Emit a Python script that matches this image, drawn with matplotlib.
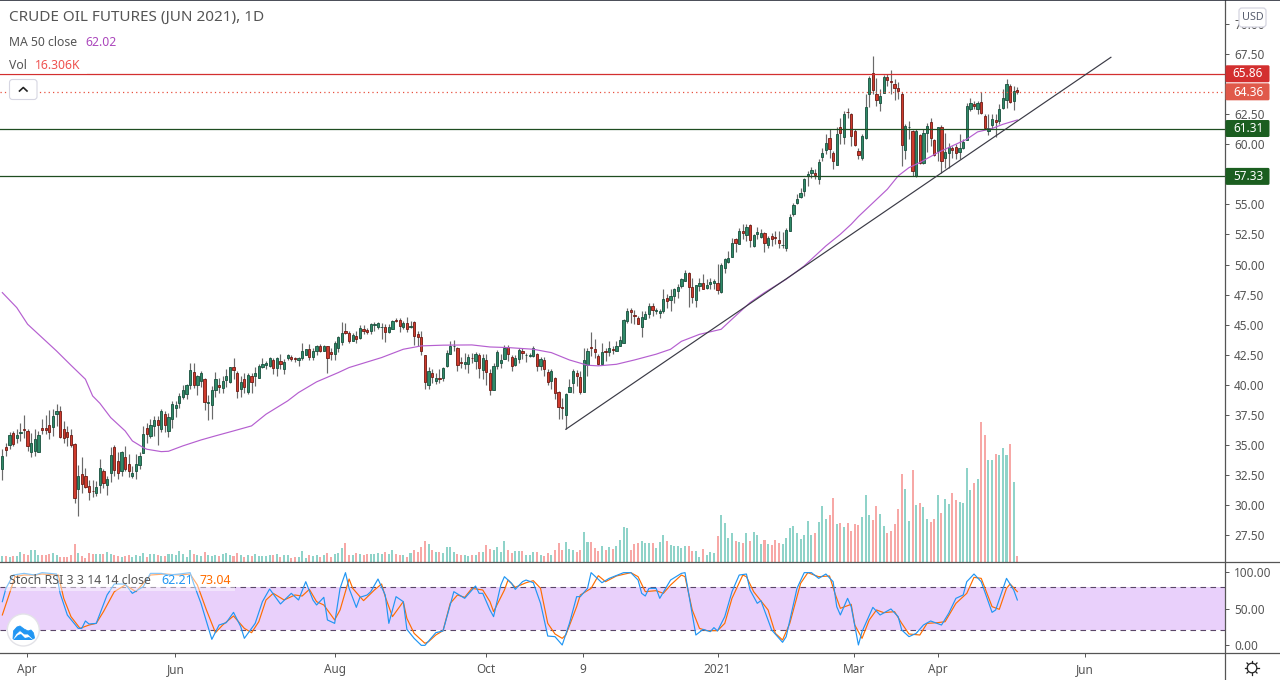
import matplotlib
matplotlib.use("Agg")
import matplotlib.pyplot as plt
from matplotlib.patches import FancyBboxPatch, Circle, Polygon, Rectangle

plt.rcParams['font.family'] = ['Noto Sans', 'DejaVu Sans']

opens = [33.0,34.8,35.0,36.0,35.6,36.0,36.3,36.2,34.45,34.5,34.45,36.4,36.4,36.7,36.5,37.6,37.8,36.3,36.1,35.85,
35.05,31.35,32.55,32.4,31.6,31.2,31.0,31.7,32.8,31.7,32.7,34.8,33.65,32.85,34.0,33.4,32.45,32.85,33.35,34.3,
36.45,35.75,36.55,37.05,36.35,37.6,36.2,37.2,38.05,38.5,39.0,39.2,40.0,41.1,40.0,40.3,40.5,38.5,38.3,39.6,
40.0,39.75,40.4,40.2,41.45,41.0,39.65,40.45,39.4,40.7,40.7,40.6,41.45,41.65,41.55,42.1,41.4,42.0,41.3,42.2,
42.35,42.2,42.1,42.2,42.5,42.95,42.3,42.85,43.25,42.8,43.25,42.7,42.6,43.05,
43.57,44.51,44.35,43.68,44.1,43.9,44.68,44.6,44.49,44.98,44.85,44.82,44.85,44.4,44.65,45.43,45.43,44.82,45.18,44.82,
45.26,44.26,44.01,42.52,40.02,41.02,40.33,40.55,40.58,41.58,42.6,43.24,43.1,41.94,41.74,41.74,42.27,41.99,42.52,41.24,
42.1,41.02,39.61,41.58,41.85,42.19,43.18,42.35,41.66,42.19,42.85,42.46,42.41,42.43,42.6,41.58,42.1,41.1,40.33,40.6,
39.44,38.14,37.53,39.44,40.19,41.02,40.69,39.44,41.69,43.18,43.02,42.43,41.74,42.85,42.74,42.96,42.85,43.27,43.51,45.34,
46.26,45.79,45.59,44.85,45.48,45.93,46.59,46.18,45.98,46.18,47.26,
47.06,47.4,47.81,48.23,48.64,49.34,48.17,47.06,48.23,48.45,48.06,48.37,48.5,48.45,47.73,49.75,50.22,50.66,52.16,51.72,
52.83,52.47,53.33,51.55,52.55,52.33,52.66,51.63,52.38,52.33,52.08,51.63,51.39,52.83,54.21,55.15,55.63,56.12,57.34,57.62,
57.65,57.12,58.95,59.53,60.56,59.31,58.29,
61.47,60.61,62.72,62.55,61.14,59.48,58.87,60.56,64.21,65.96,64.21,63.44,64.3,65.63,65.3,65.05,64.71,64.21,59.53,61.44,
61.14,57.34,60.81,58.48,60.97,61.89,60.39,59.45,61.47,58.87,59.28,59.7,59.81,59.37,59.73,60.39,62.97,63.36,62.97,63.55,
62.39,61.14,61.64,62.05,61.97,63.05,63.72,64.88,63.63,64.55]

closes = [34.07,34.6,35.87,35.1,35.87,36.1,36.25,34.9,35.2,35.5,35.8,36.25,36.25,36.1,37.45,37.8,35.7,35.55,35.7,35.0,
30.6,32.4,31.75,31.5,31.1,31.15,31.5,33.05,31.85,32.2,34.15,32.95,32.7,34.4,33.0,32.85,32.7,33.45,34.05,35.95,
35.9,36.7,37.05,36.7,37.8,36.7,37.3,38.45,38.35,39.05,39.6,39.95,41.2,40.0,40.7,41.0,38.6,38.6,39.6,40.5,
39.8,40.35,40.75,41.5,41.25,39.5,40.2,39.85,40.85,40.25,40.95,41.6,41.7,41.8,42.2,41.4,42.2,41.75,41.9,42.5,
42.15,42.15,42.25,42.85,42.95,42.3,42.85,43.25,42.8,43.2,42.25,42.6,43.5,43.95,
44.35,44.32,43.65,44.18,43.82,44.76,44.49,44.43,45.09,45.09,45.12,44.85,44.43,44.85,45.34,45.34,44.9,45.18,44.65,44.93,
44.1,43.99,42.85,40.27,41.19,40.63,40.55,40.5,41.38,42.68,43.27,43.27,41.69,41.85,41.91,42.35,42.24,42.6,41.44,42.27,
41.08,39.61,41.6,42.77,42.1,43.1,42.6,41.58,42.27,42.93,42.68,42.52,42.52,43.1,41.58,42.19,41.35,40.27,41.19,39.36,
38.2,38.08,39.28,39.86,41.19,40.77,39.44,42.1,42.85,43.07,42.74,41.74,42.77,42.74,43.1,42.93,43.27,43.76,45.43,46.18,
46.09,45.76,45.07,45.68,45.93,46.59,46.26,46.23,46.12,47.17,47.01,
47.42,47.95,48.17,48.78,49.34,48.17,47.31,48.34,48.45,48.0,48.34,48.59,48.67,47.89,49.95,50.44,50.58,51.83,51.8,52.77,
52.66,53.16,52.05,52.49,52.74,52.66,51.8,52.24,52.13,52.24,51.83,51.66,52.91,53.99,54.93,55.43,55.99,57.15,57.56,57.9,
57.45,58.56,59.31,60.14,59.64,58.62,60.89,
60.97,62.55,62.69,60.7,59.95,59.12,60.72,63.13,65.49,64.52,63.69,64.05,65.63,65.35,65.18,64.71,64.41,59.95,61.55,61.47,
57.79,61.14,58.48,60.97,61.55,60.56,59.14,61.47,58.65,59.39,59.81,59.56,59.31,59.73,60.22,63.22,63.47,63.22,63.47,62.64,
61.39,61.39,62.14,61.89,62.97,63.88,65.05,63.55,64.46,64.36]

highs = [34.65,35.2,36.1,36.2,36.3,36.8,37.5,36.3,36.0,36.3,36.2,37.15,37.5,37.9,38.0,38.45,38.25,37.0,36.6,36.3,
35.2,33.3,34.0,33.1,32.1,32.05,32.0,33.8,33.0,32.4,34.8,35.0,34.4,34.5,34.95,34.25,33.25,34.25,34.4,36.6,
36.85,37.15,37.4,37.4,38.0,37.85,37.7,38.7,38.7,39.35,40.0,40.05,41.85,41.85,40.85,41.15,40.6,39.15,39.9,41.1,
40.6,40.7,41.3,41.5,42.25,41.15,40.75,41.0,41.0,41.0,41.5,41.7,42.25,42.0,42.3,42.2,42.3,42.55,42.15,42.55,
42.45,42.35,42.35,43.45,43.0,43.4,43.1,43.3,43.4,43.3,43.25,43.1,43.65,44.1,
45.23,45.18,44.49,44.35,44.49,44.96,44.96,44.76,45.18,45.23,45.23,45.18,45.04,45.04,45.4,45.59,45.59,45.32,45.65,45.32,
45.32,44.49,44.49,42.52,41.52,41.35,41.02,41.35,41.52,42.9,43.65,43.71,43.18,42.35,42.68,42.55,42.63,42.74,42.63,42.55,
42.55,41.3,41.8,42.88,42.55,43.3,43.3,42.46,42.46,43.1,43.1,42.68,42.63,43.24,42.68,42.32,42.32,41.35,41.35,40.69,
39.5,38.94,39.36,40.47,41.35,41.24,41.16,43.1,43.1,44.4,43.79,42.55,43.52,43.1,43.65,43.24,43.65,44.07,45.51,46.42,
46.42,46.23,45.73,46.15,46.15,46.84,46.78,46.42,46.34,48.0,47.53,
47.95,48.09,48.37,48.92,49.56,49.39,48.92,48.34,48.92,49.2,48.78,48.92,48.78,50.03,50.17,50.58,51.14,52.24,52.24,53.08,
53.41,53.35,53.35,52.52,53.16,52.94,52.72,52.38,52.6,52.8,52.8,52.72,53.08,54.2,55.1,55.85,56.4,57.23,57.79,58.15,
57.92,58.76,59.73,60.83,61.25,59.45,61.4,
62.22,62.77,63.05,62.64,61.25,59.73,60.83,64.16,65.68,67.35,65.54,64.58,65.74,65.82,66.15,65.46,65.21,64.35,61.67,61.94,
61.17,61.25,60.83,61.25,61.75,62.22,60.42,61.47,61.58,60.92,60.14,59.86,60.0,60.83,60.42,63.47,63.88,63.61,63.61,64.38,
62.5,62.5,62.5,62.5,63.33,64.58,65.46,65.0,64.85,64.77]

lows = [32.1,34.1,34.65,34.9,35.2,35.3,35.6,34.5,34.0,34.1,34.4,35.9,35.9,35.5,35.75,36.6,35.6,35.15,34.9,34.8,
30.2,29.1,31.05,31.45,30.45,30.65,30.8,31.05,31.4,30.85,31.9,32.45,32.15,32.45,32.85,32.3,32.25,32.15,33.0,34.3,
35.2,35.6,35.75,35.0,36.1,36.05,35.7,36.45,37.3,38.1,38.8,38.8,39.65,39.75,39.15,39.85,37.9,37.1,37.2,38.95,
39.35,39.35,39.8,40.15,40.45,38.9,38.95,39.35,39.2,39.35,39.9,40.55,41.4,41.3,41.5,40.9,40.75,41.3,40.9,42.1,
42.0,41.9,41.6,42.1,42.45,42.1,42.1,42.45,42.7,42.8,41.0,42.1,42.1,42.7,
43.3,44.21,43.52,43.65,43.52,43.85,44.21,44.21,44.21,44.49,44.62,43.79,43.57,44.35,44.62,45.23,44.4,44.62,44.4,44.76,
43.3,43.24,42.46,39.64,39.64,40.13,40.05,40.13,40.33,41.52,42.55,42.82,41.16,41.44,41.3,41.02,41.85,41.3,40.6,40.47,
40.0,39.17,39.58,41.35,41.44,42.13,41.99,41.16,41.58,41.8,42.13,41.91,42.35,42.35,41.16,41.24,40.75,40.0,39.64,38.8,
37.2,37.2,36.31,39.41,39.36,39.91,39.22,39.41,40.75,42.41,42.27,41.63,41.71,41.99,42.41,42.55,42.82,43.24,43.46,45.18,
45.18,45.04,45.04,44.01,45.46,45.59,45.73,45.87,45.59,46.01,46.42,
46.15,46.84,47.26,48.09,48.64,46.48,46.84,46.48,47.81,47.95,47.95,47.95,47.95,47.53,47.67,49.34,50.17,50.64,51.05,51.69,
52.11,51.97,51.5,51.5,52.11,52.24,51.05,51.41,51.55,51.69,51.41,51.41,51.14,52.8,54.05,55.02,55.57,55.71,56.54,57.23,
57.09,56.68,58.62,59.17,58.9,57.92,58.26,
60.0,60.0,62.22,59.86,59.86,58.76,58.7,60.47,63.13,64.16,63.19,62.77,64.3,64.85,64.16,63.69,63.74,58.2,58.76,60.42,
57.37,57.32,58.34,58.34,59.37,59.86,59.03,58.62,57.65,58.06,58.06,58.89,58.76,58.76,59.59,60.36,62.77,62.91,62.5,62.5,
61.25,60.75,61.25,60.64,61.67,62.91,63.05,63.47,62.86,64.16]

volume_k = [16.4,16.4,13.8,16.4,16.4,26.8,21.6,19,31.9,31.9,19,19,19,21.6,24.2,19,13.8,13.8,13.8,19,47.5,24.2,16.4,11.2,24.2,
21.6,21.6,21.6,21.6,26.8,21.6,19,16.4,13.8,16.4,19,13.8,19,16.4,24.2,13.8,21.6,21.6,19,16.4,16.4,21.6,21.6,19,29.3,21.6,13.8,31.9,21.6,19,16.4,26.8,19,16.4,19,16.4,21.6,24.2,19,16.4,24.2,19,13.8,19,16.4,21.6,16.4,16.4,16.4,19,19,21.6,13.8,19,19,11.2,13.8,13.8,29.3,11.2,19,16.4,19,13.8,19,24.2,13.8,21.6,24.2,37,50,19,19,24.2,21.6,19,21.6,21.6,21.6,24.2,21.6,26.8,21.6,31.9,21.6,19,19,13.8,24.2,31.9,26.8,39.7,55,47.5,31.9,26.8,26.8,24.2,39.7,39.7,26.8,21.6,19,19,16.4,19,19,26.8,26.8,45,34.5,31.9,39.7,26.8,55,31.9,
24.2,29.3,29.3,29.3,19,19,26.8,26.8,19,16.4,24.2,19,31.9,50,31.9,52.6,34.5,31.9,26.8,31.9,78.5,52.6,52.6,37.1,29.3,42.3,31.9,39.7,34.5,42.3,57.8,91.5,88.9,31.9,47.5,50,55.2,50,50,50,37.1,52.6,70.8,55.2,44.9,42.3,42.3,37.1,42.3,42.3,29.3,29.3,13.8,34.5,19,26.8,24.2,68.2,122.5,101.8,63,75.9,55.2,52.6,50,75.9,55.2,78.5,70.8,47.5,57.8,47.5,44.9,57.8,50,47.5,63,88.9,94,75.9,60.4,70.8,107,70.8,75.9,104.4,145.8,112.2,122.5,166.6,99.2,101.8,91.5,101.8,81.1,99.2,96.7,117.4,174.3,122.5,109.6,145.8,125.1,94,75.9,81.1,99.2,138,228.7,189.9,107,239,148.4,153.6,143.3,112.2,104.4,112.2,174.3,127.7,164,151,179.5,161.4,156.2,153.6,244.2,187.3,205.4,215.8,363.3,329.7,264.9,264.9,280.5,277.9,296,277.9,306.4,208,16.3]

ma_pos = [1,5,8,12,16,20,24,26,28,31,35,37,40,41,45,47,51,56,60,65,70,74,80,83,88,94,97,106,112,117,123,131,136,141,148,153,158,163,166,171,176,182,186,189,194,200,203,208,212,218,223,226,229,233,236,238,246,249,252,255,260,263,268,271,275,278,282]
ma_vals = [47.67,46.42,45.04,43.93,42.82,41.63,40.47,39.08,38.47,37.28,36.17,35.34,34.79,34.65,34.45,34.48,34.93,35.42,35.76,36.17,36.59,37.56,38.67,39.36,40.25,41.02,41.44,42.27,42.96,43.24,43.3,43.32,43.15,43.1,42.96,42.68,42.07,41.63,41.58,41.71,42.07,42.55,42.96,43.62,44.2,44.62,45.46,46.84,47.67,48.78,49.89,50.72,51.55,52.52,53.35,53.99,56.26,57.37,58.06,58.48,59.31,59.73,60.42,61.03,61.31,61.66,62.02]

k_pos = [1,2,4,7,10,12,16,17,19,22,23,24,25,27,30,32,35,37,40,42,45,47,50,53,54,56,59,61,63,65,67,68,71,73,75,76,78,81,83,85,87,88,90,91,93,94.5,
96,97,99,100,102,103,105,107,108,110,112,113,115,117,118,121,123,126,129,132,133,134,136,137,139,140,142,143,145,146,148,150,152,154,156,158,160,161,163,164,167,169,173,175,177,178,179,180,182,183,186,189,
190,191,193,195,197,198,199,201,203,205,207,208,210,211,214,217,218,221,223,225,227,229,231,232,233,235,236,238,239,242,244,247,249,250,252,254,256,258,261,263,265,267,268,270,272,275,276,279,281,282]
k_vals = [59.5,77.9,96.3,98.6,96.3,99.6,97.7,71,41,22.6,22.6,32.8,28.6,29.5,68.7,83.9,83.9,71,80.2,98.6,98.6,96.3,97.7,99.6,83.9,57.2,7.4,27.2,30.5,44.7,25,8.8,29.5,59.5,77,70.1,56.3,71,61.8,87.1,61.8,54.9,65.5,34.2,29.5,77.9,
99.6,77.9,51.6,65.5,68.7,73.3,90.8,68.7,29.5,66.4,59.5,21.2,8.8,-0.9,-0.9,16.6,19,73.3,64.1,81.1,71,71,48,38.8,82.5,94,84.8,76.5,87.1,89.4,85.7,57.2,12,11.1,-0.4,29.5,66.4,66.4,77.9,99.6,85.7,91.7,99.6,99.6,89.4,71,67.3,77.9,77.9,64.1,89.4,98.6,
99.6,71,13.4,21.2,18,23.6,19,38.8,73.3,96.3,97.7,75.6,57.2,60.9,20.3,3.3,11.1,77.9,99.6,99.6,91.7,97.7,87.1,52.6,41.1,64.1,52.6,-0.4,18,51.6,41.1,49.4,38.8,20.3,11.1,15.7,27.2,32.8,27.2,43.4,64.1,68.7,87.1,97.7,87.1,44.7,48,91.7,75.6,61.8]

d_pos = [1,3,4.5,7,10,12,16.5,18,20,22.5,25,27,29,32,35,38,40,42,46,50,53,55,57.5,60,62,65,68,70,72,74,76,79,82,84,86,88,90,93,94.5,
97,98,100,101,104,106,107,109,112,113,115,118,119,121,123,125,127,129,131,134,136,137,140,141,143,146,148,150,152,154,156,157,160,161,164,166,168,171,175,177,179,182,184,186,189,
190,192,194,196,199,201,203,206,207,209,213,215,217,219,222,224,227,230,231.5,233,236,237,239,241,243,245,248,250,252,255,257,260,262,265,268,270,272,275,277,279,280,282]
d_vals = [41.1,71,94,96.3,96.3,97.7,96.3,64.1,38.8,22.6,27.2,29.5,45.7,73.3,82.5,73.3,84.8,96.3,97.7,96.3,97.7,82.5,48,16.6,27.2,39.7,22.6,16.6,31.8,61.8,71,61.8,68.7,67.3,76.5,59.5,54.9,34.2,48,
90.8,77.9,66.4,60.9,75.6,83.9,66.4,38.8,59.5,36.4,15.7,1.9,4.2,13.4,19.4,57.2,68.7,65.5,77.9,75.6,59.5,45.7,75.6,89.4,79.3,85.7,88.5,77.9,29.5,14.8,8.8,13.4,52.6,68.7,77.9,95.4,87.1,95,99.6,94,73.3,74.7,71,82.5,96.3,
94,48,22.6,19.4,19.4,29.5,64.1,96.3,94,73.3,48,15.7,6.5,29.5,84.8,99.6,94,95,71,50.3,55.8,27.2,8.8,34.2,48,44.3,45.7,29.5,14.8,13.4,29.5,30.5,31.8,57.2,71,93.1,91.7,52.6,48.9,77.9,83.9,73.3]

price_ticks = [27.5,30,32.5,35,37.5,40,42.5,45,47.5,50,52.5,55,60,62.5,67.5,70]
stoch_ticks = [0,50,100]
date_pos = [7.9,48.9,93,135,161.8,199,236.8,259.9,300.7]
date_labels = ['Apr','Jun','Aug','Oct','9','2021','Mar','Apr','Jun']
trend_pos = [157,307.9]
trend_vals = [36.31,67.23]
lines_dark = [61.31,57.33]
last_lines = [65.86,64.36]

W, H, AX_R = 1280, 680, 1224.5
Y_MAIN_T, Y_MAIN_B, Y_STOCH_B = 1, 562.3, 653
GREY = '#555555'
xlim = (0.355, 339.35)

fig = plt.figure(figsize=(12.8, 6.8), dpi=100, facecolor='white')
def rect(t, b):
    return [0, (H-b)/H, AX_R/W, (b-t)/H]

vax = fig.add_axes(rect(Y_MAIN_T, Y_MAIN_B), zorder=1)
ax = fig.add_axes(rect(Y_MAIN_T, Y_MAIN_B), zorder=2, facecolor='none')
sax = fig.add_axes(rect(Y_MAIN_B, Y_STOCH_B), zorder=2)

idx = list(range(1, len(closes)+1))
up = [c >= o for o, c in zip(opens, closes)]

vax.bar(idx, volume_k, width=0.56, color=['#8fd3c9' if u else '#f7a8a6' for u in up], linewidth=0)
vax.set_ylim(0, 1454)
vax.set_xlim(*xlim)
vax.axis('off')

ax.vlines(idx, lows, highs, color='#6a6a6a', lw=0.85, zorder=2)
ax.bar(idx, [abs(c-o) for o, c in zip(opens, closes)], bottom=[min(o, c) for o, c in zip(opens, closes)],
       width=0.62, color=['#2f8a68' if u else '#cf3a2c' for u in up],
       edgecolor=['#174f3c' if u else '#6e1a14' for u in up], linewidth=0.6, zorder=3)
ax.plot(ma_pos, ma_vals, color='#b55fd0', lw=0.85, zorder=4)
ax.plot(trend_pos, trend_vals, color='#3a3a45', lw=0.85, zorder=5)
ax.axhline(last_lines[0], color='#d32f2f', lw=0.9, zorder=4)
ax.axhline(last_lines[1], color='#e8503f', lw=0.9, ls=(0, (1, 2.5)), zorder=4)
for v in lines_dark:
    ax.axhline(v, color='#1e4d20', lw=0.9, zorder=4)
ax.set_xlim(*xlim)
ax.set_ylim(25.25, 71.91)
ax.set_xticks([])
ax.yaxis.tick_right()
ax.set_yticks(price_ticks)
ax.set_yticklabels([f'{v:.2f}' for v in price_ticks])
ax.tick_params(axis='y', length=3, width=0.7, color=GREY, labelcolor=GREY, labelsize=8.5, pad=4)
for s in ax.spines.values():
    s.set_visible(False)

sax.axhspan(20, 80, color='#e9d0fb', lw=0, zorder=1)
for v in (20, 80):
    sax.axhline(v, color='#5a4668', lw=0.8, ls=(0, (5, 4)), zorder=2)
sax.plot(d_pos, d_vals, color='#ff6d00', lw=0.85, zorder=3)
sax.plot(k_pos, k_vals, color='#2196f3', lw=0.85, zorder=4)
sax.set_xlim(*xlim)
sax.set_ylim(-11.47, 113.9)
sax.yaxis.tick_right()
sax.set_yticks(stoch_ticks)
sax.set_yticklabels([f'{v:.2f}' for v in stoch_ticks])
sax.set_xticks(date_pos)
sax.set_xticklabels(date_labels)
sax.tick_params(axis='both', length=3, width=0.7, color=GREY, labelcolor=GREY, labelsize=8.5)
sax.tick_params(axis='x', pad=4.5)
sax.tick_params(axis='y', pad=4)
for lab in sax.get_xticklabels():
    if lab.get_text() == '2021':
        lab.set_fontweight('bold')
for s in sax.spines.values():
    s.set_visible(False)

ov = fig.add_axes([0, 0, 1, 1], zorder=5, facecolor='none')
ov.set_xlim(0, W)
ov.set_ylim(H, 0)
ov.axis('off')

# panel separators
ov.plot([AX_R, AX_R], [0, H], color='#555555', lw=0.9)
ov.plot([0, W], [Y_MAIN_B, Y_MAIN_B], color='#555555', lw=0.9)
ov.plot([0, W], [Y_STOCH_B, Y_STOCH_B], color='#555555', lw=0.9)
ov.plot([0, W], [0.4, 0.4], color='#2a2e39', lw=1.2)

# last-value boxes on the price scale
fig.canvas.draw()
def py(v):
    return H - ax.transData.transform((1, v))[1]
boxes = [(last_lines[0], '#d32f2f'), (last_lines[1], '#e0594a'),
         (lines_dark[0], '#1b5e20'), (lines_dark[1], '#1b5e20')]
for v, c in boxes:
    y = py(v)
    ov.add_patch(FancyBboxPatch((AX_R+1, y-8.5), 44, 17, boxstyle='round,pad=0,rounding_size=1.5',
                                fc=c, ec='none', zorder=6))
    ov.text(AX_R+23.5, y+0.2, f'{v:.2f}', color='white', fontsize=8.5, fontweight='bold',
            ha='center', va='center', zorder=7)

# USD button
ov.add_patch(FancyBboxPatch((1239, 8), 27, 19, boxstyle='round,pad=0,rounding_size=3',
                            fc='white', ec='#d4d4e0', lw=0.9, zorder=6))
ov.text(1252.5, 17.5, 'USD', color='#5a6070', fontsize=7.8, ha='center', va='center', zorder=7)

# legends
ov.add_patch(Rectangle((0, 55), 87, 19, fc='white', ec='none', alpha=0.55, zorder=1))
ov.text(9, 17.5, 'CRUDE OIL FUTURES (JUN 2021), 1D', color='#555555', fontsize=11, ha='left', va='center')
ov.text(9, 42, 'MA 50 close', color='#555555', fontsize=8.8, ha='left', va='center')
ov.text(85, 42, '62.02', color='#ab47bc', fontsize=8.8, ha='left', va='center')
ov.text(9, 65.5, 'Vol', color='#555555', fontsize=8.8, ha='left', va='center')
ov.text(35, 65.5, '16.306K', color='#ef5350', fontsize=8.8, ha='left', va='center')
ov.add_patch(FancyBboxPatch((9.5, 79.5), 27.5, 20, boxstyle='round,pad=0,rounding_size=3',
                            fc='white', ec='#d6d6e2', lw=0.8, zorder=3))
ov.plot([19.5, 23.3, 27], [91, 87.5, 91], color='#222222', lw=1.2, zorder=4)

ov.add_patch(Rectangle((5, 570), 230, 20.7, fc='white', ec='none', alpha=0.45, zorder=1))
ov.text(9, 580, 'Stoch RSI 3 3 14 14 close', color='#555555', fontsize=8.9, ha='left', va='center', zorder=3)
ov.text(161, 580, '62.21', color='#2196f3', fontsize=8.9, ha='left', va='center', zorder=3)
ov.text(199, 580, '73.04', color='#ff6d00', fontsize=8.9, ha='left', va='center', zorder=3)

# chart-library badge
ov.add_patch(Circle((23.3, 630), 16, fc='white', ec='#e3e3e8', lw=1.0, zorder=3))
ov.add_patch(Polygon([(13, 639), (13.5, 631), (17, 627), (20, 626), (24, 629), (28, 631), (31, 630),
                      (33.5, 633), (34.5, 638), (33, 639), (28, 634), (24.5, 634), (20, 630.5), (16, 634)],
                     closed=True, fc='#2196f3', ec='#2196f3', lw=0.6, zorder=4))
ov.add_patch(Polygon([(13, 640), (18, 635), (21, 634), (25, 638), (29, 637), (33, 640)],
                     closed=True, fc='#2196f3', ec='none', zorder=4))

# settings icon
ov.add_patch(Circle((1252, 668), 4.8, fc='white', ec='#222222', lw=0.9, zorder=4))
for dx, dy in [(0, -7), (0, 7), (-7, 0), (7, 0), (-5, -5), (5, -5), (-5, 5), (5, 5)]:
    ov.plot([1252+dx*0.72, 1252+dx], [668+dy*0.72, 668+dy], color='#222222', lw=0.9, zorder=4)

assert len(opens) == len(closes) == len(highs) == len(lows) == len(volume_k) == 282
fig.savefig('out.png', dpi=100, facecolor='white')
